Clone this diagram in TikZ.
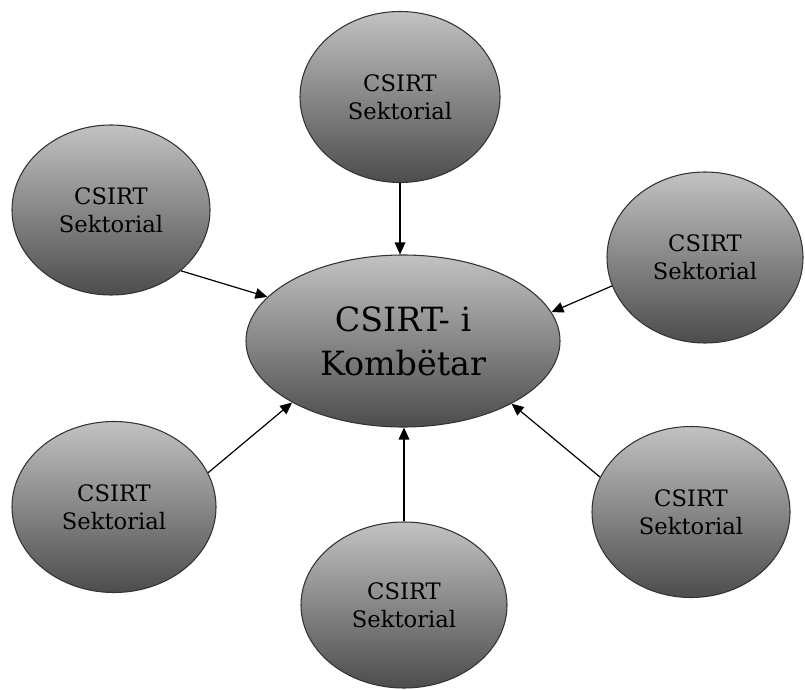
\documentclass[tikz,border=0pt]{standalone}
\usepackage{fontspec}
\setmainfont{DejaVu Serif}
\usetikzlibrary{shapes.geometric,arrows.meta}
\begin{document}
\begin{tikzpicture}[x=0.75pt,y=0.75pt,
  blob/.style={ellipse,draw=black!80,line width=0.8pt,inner sep=0pt,
    top color=black!24,bottom color=black!70,align=center,text=black},
  small/.style={blob,font=\fontsize{17}{21}\selectfont},
  big/.style={blob,font=\fontsize{25}{33}\selectfont},
  conn/.style={line width=0.9pt,-{Triangle[length=9pt,width=8pt]}}]
\useasboundingbox (0,0) rectangle (805,689);
\node[big,minimum width={314*0.75pt},minimum height={172*0.75pt}] (mid) at (403,348) {CSIRT- i\\Kombëtar};
\node[small,minimum width={200*0.75pt},minimum height={171*0.75pt}] (top) at (400,592) {CSIRT\\Sektorial};
\node[small,minimum width={198*0.75pt},minimum height={170*0.75pt}] (tl) at (111,479) {CSIRT\\Sektorial};
\node[small,minimum width={196*0.75pt},minimum height={171*0.75pt}] (tr) at (705,431.5) {CSIRT\\Sektorial};
\node[small,minimum width={204*0.75pt},minimum height={171*0.75pt}] (bl) at (114,182) {CSIRT\\Sektorial};
\node[small,minimum width={198*0.75pt},minimum height={171*0.75pt}] (br) at (691,177) {CSIRT\\Sektorial};
\node[small,minimum width={206*0.75pt},minimum height={166*0.75pt}] (bot) at (404,84) {CSIRT\\Sektorial};
\draw[conn] (top.south) -- (top.south |- mid.north);
\draw[conn] (bot.north) -- (bot.north |- mid.south);
\draw[conn] (tl.-41) -- (mid.162);
\draw[conn] (tr.-163) -- (mid.11);
\draw[conn] (bl.20) -- (mid.-151);
\draw[conn] (br.159) -- (mid.-30);
\end{tikzpicture}
\end{document}
